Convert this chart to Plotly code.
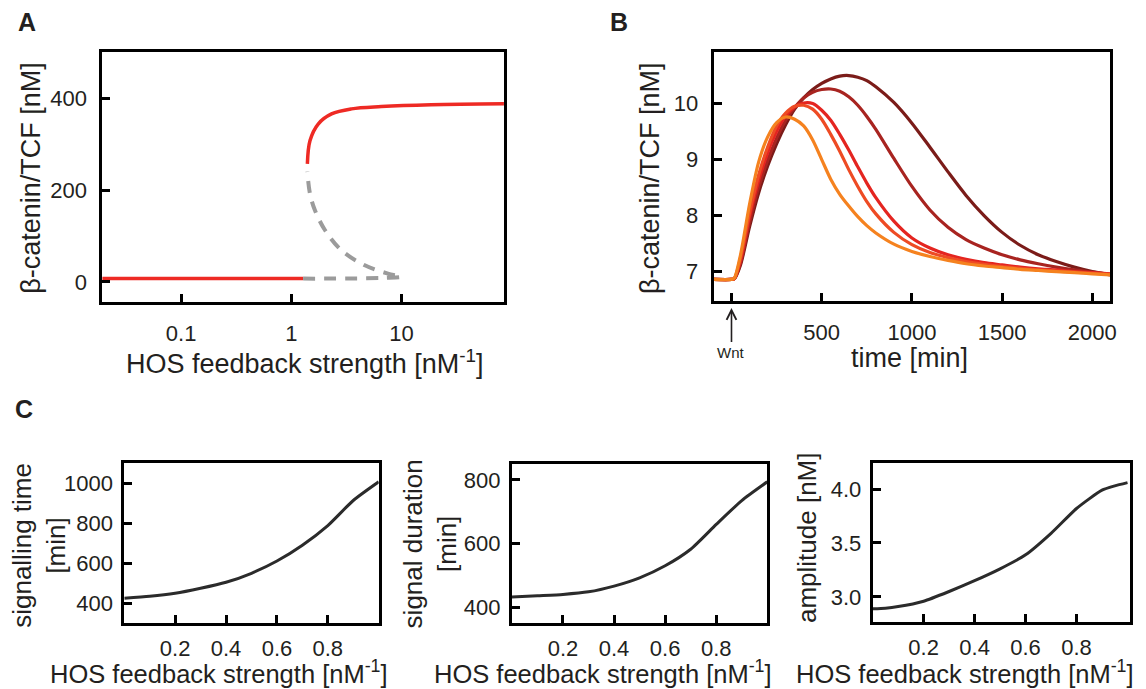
import plotly.graph_objects as go

# The page body adds an 8px margin, so the figure is drawn 8px smaller and offset
OFF = 8
W, H = 1146 - OFF, 689 - OFF

# ---------------- Panel A data (bifurcation diagram) ----------------
a_low_stable_x = [0.0189, 1.28]
a_low_stable_y = [7, 7]
a_unstable_x = [1.28, 2.0, 4.0, 7.0, 9.97, 7.55, 4.65, 2.85, 2.02, 1.64, 1.476, 1.40]
a_unstable_y = [7, 7, 7.5, 8.5, 11, 18, 36, 69, 113, 156, 193, 240]
a_high_stable_x = [1.40, 1.48, 1.755, 2.32, 3.52, 6.57, 18.6, 85.5]
a_high_stable_y = [257, 308, 344, 366, 377, 382, 386, 388]
a_yticks = [0, 200, 400]
a_xticks = [0.1, 1, 10]
a_xticklabels = ["0.1", "1", "10"]

# ---------------- Panel B data (time courses) ----------------
b_time = [-100, 0, 15, 50, 100, 150, 200, 250, 300, 350, 400, 450, 500, 550, 600,
          650, 700, 750, 800, 900, 1000, 1100, 1200, 1300, 1400, 1500, 1600, 1700,
          1800, 1900, 2000, 2100]
b_orange = [6.86, 6.86, 6.88, 7.30, 8.20, 8.95, 9.40, 9.66, 9.76, 9.72, 9.60, 9.35, 9.00, 8.65, 8.38,
            8.17, 7.98, 7.82, 7.69, 7.49, 7.36, 7.27, 7.20, 7.14, 7.10, 7.07, 7.04, 7.02,
            7.00, 6.98, 6.96, 6.94]
b_redorange = [6.86, 6.86, 6.87, 7.25, 8.05, 8.72, 9.22, 9.60, 9.83, 9.95, 9.97, 9.90, 9.72, 9.45, 9.15,
               8.82, 8.52, 8.25, 8.03, 7.70, 7.48, 7.34, 7.25, 7.18, 7.13, 7.09, 7.06, 7.03,
               7.01, 6.99, 6.97, 6.95]
b_red = [6.86, 6.86, 6.87, 7.20, 7.98, 8.62, 9.12, 9.50, 9.78, 9.94, 10.01, 10.00, 9.88, 9.70, 9.45,
         9.17, 8.87, 8.58, 8.32, 7.90, 7.60, 7.42, 7.30, 7.22, 7.16, 7.12, 7.08, 7.05,
         7.03, 7.00, 6.98, 6.96]
b_darkred = [6.86, 6.86, 6.87, 7.15, 7.88, 8.50, 8.98, 9.38, 9.70, 9.93, 10.10, 10.20, 10.25, 10.26, 10.22,
             10.12, 9.97, 9.77, 9.54, 9.02, 8.52, 8.10, 7.79, 7.57, 7.42, 7.30, 7.21, 7.14,
             7.08, 7.03, 6.99, 6.95]
b_maroon = [6.86, 6.86, 6.87, 7.12, 7.80, 8.40, 8.88, 9.28, 9.62, 9.90, 10.10, 10.25, 10.36, 10.44, 10.49,
            10.50, 10.47, 10.41, 10.30, 10.02, 9.65, 9.22, 8.78, 8.36, 8.00, 7.70, 7.47, 7.30,
            7.18, 7.08, 7.00, 6.94]
b_series = [("maroon", b_maroon, "#7B1C19"), ("darkred", b_darkred, "#A82420"),
            ("red", b_red, "#E42520"), ("redorange", b_redorange, "#EE4B24"),
            ("orange", b_orange, "#F5821F")]
b_yticks = [7, 8, 9, 10]
b_xticks = [500, 1000, 1500, 2000]
b_stimulus_time = [0]

# ---------------- Panel C data ----------------
c_x = [0, 0.1, 0.2, 0.3, 0.4, 0.5, 0.6, 0.7, 0.8, 0.9, 1.0]
c_signalling_time = [428, 437, 452, 477, 507, 552, 613, 692, 790, 915, 1008]
c_signal_duration = [432, 436, 440, 448, 466, 492, 530, 582, 660, 735, 794]
c3_x = [0, 0.05, 0.1, 0.2, 0.3, 0.4, 0.5, 0.6, 0.7, 0.8, 0.9, 0.95, 1.0]
c_amplitude = [2.89, 2.895, 2.91, 2.96, 3.05, 3.15, 3.26, 3.39, 3.59, 3.82, 3.99, 4.03, 4.06]
c_xticks = [0.2, 0.4, 0.6, 0.8]
c1_yticks = [400, 600, 800, 1000]
c2_yticks = [400, 600, 800]
c3_yticks = [3.0, 3.5, 4.0]
c3_yticklabels = ["3.0", "3.5", "4.0"]

FONT = "Arial, Liberation Sans, Helvetica, sans-serif"
TXT = "#231F20"


def px(x):
    return (x - OFF) / W


def py(y):
    return 1 - (y - OFF) / H


fig = go.Figure()

# Panel A traces
fig.add_trace(go.Scatter(x=a_low_stable_x, y=a_low_stable_y, mode="lines",
                         line=dict(color="#EE2A24", width=3.5), xaxis="x", yaxis="y"))
fig.add_trace(go.Scatter(x=a_unstable_x, y=a_unstable_y, mode="lines",
                         line=dict(color="#9B9B9B", width=4, dash="12px,9px", shape="spline"),
                         xaxis="x", yaxis="y"))
fig.add_trace(go.Scatter(x=a_high_stable_x, y=a_high_stable_y, mode="lines",
                         line=dict(color="#EE2A24", width=3.5, shape="spline"), xaxis="x", yaxis="y"))

# Panel B traces
for name, vals, col in b_series:
    fig.add_trace(go.Scatter(x=b_time, y=vals, mode="lines", name=name,
                             line=dict(color=col, width=3.2, shape="spline", smoothing=0.8),
                             xaxis="x2", yaxis="y2"))

# Panel C traces
for xs, ys, ax in [(c_x, c_signalling_time, "3"), (c_x, c_signal_duration, "4"), (c3_x, c_amplitude, "5")]:
    fig.add_trace(go.Scatter(x=xs, y=ys, mode="lines",
                             line=dict(color="#2B2B2B", width=3, shape="spline", smoothing=0.6),
                             xaxis="x" + ax, yaxis="y" + ax))

axis_common = dict(showline=True, linecolor="black", linewidth=3, mirror=True,
                   ticks="inside", ticklen=8, tickwidth=3, tickcolor="black",
                   showgrid=False, zeroline=False,
                   tickfont=dict(family=FONT, size=22, color=TXT))

layout = dict(
    width=W, height=H, margin=dict(l=0, r=0, t=0, b=0),
    paper_bgcolor="white", plot_bgcolor="white", showlegend=False,
    font=dict(family=FONT, color=TXT),
    xaxis=dict(axis_common, type="log", range=[-1.715, 1.931], domain=[px(103), px(507)],
               tickvals=a_xticks, ticktext=a_xticklabels, anchor="y", ticklabelstandoff=10),
    yaxis=dict(axis_common, range=[-44, 501], domain=[py(302), py(52)],
               tickvals=a_yticks, anchor="x", ticklabelstandoff=8),
    xaxis2=dict(axis_common, range=[-99, 2099], domain=[px(718), px(1117)],
                tickvals=b_xticks, anchor="y2", ticklabelstandoff=10,
                minor=dict(tickvals=b_stimulus_time, ticks="inside", ticklen=8,
                           tickwidth=3, tickcolor="black", showgrid=False)),
    yaxis2=dict(axis_common, range=[6.475, 10.92], domain=[py(301), py(52)],
                tickvals=b_yticks, anchor="x2", ticklabelstandoff=8),
    xaxis3=dict(axis_common, range=[0, 1.0], domain=[px(125), px(381)],
                tickvals=c_xticks, anchor="y3", ticklabelstandoff=4),
    yaxis3=dict(axis_common, range=[304, 1102], domain=[py(623), py(463)],
                tickvals=c1_yticks, anchor="x3", ticklabelstandoff=4),
    xaxis4=dict(axis_common, range=[0, 1.0], domain=[px(515), px(772)],
                tickvals=c_xticks, anchor="y4", ticklabelstandoff=4),
    yaxis4=dict(axis_common, range=[350, 850], domain=[py(623), py(464)],
                tickvals=c2_yticks, anchor="x4", ticklabelstandoff=4),
    xaxis5=dict(axis_common, range=[0, 1.01], domain=[px(878), px(1137)],
                tickvals=c_xticks, anchor="y5", ticklabelstandoff=4),
    yaxis5=dict(axis_common, range=[2.767, 4.242], domain=[py(622), py(463)],
                tickvals=c3_yticks, ticktext=c3_yticklabels, anchor="x5", ticklabelstandoff=4),
)
fig.update_layout(**layout)


def label(text, x, y, size=27, angle=0, bold=False):
    fig.add_annotation(text=("<b>%s</b>" % text) if bold else text,
                       x=px(x), y=py(y), xref="paper", yref="paper",
                       xanchor="center", yanchor="middle", showarrow=False,
                       textangle=angle, font=dict(family=FONT, size=size, color=TXT))


hos = "HOS feedback strength [nM<sup>-1</sup>]"
# Panel letters
label("A", 27, 22, size=25, bold=True)
label("B", 623, 22, size=25, bold=True)
label("C", 24, 409, size=25, bold=True)
# Panel A titles
label(hos, 306, 362, size=27)
label("β-catenin/TCF [nM]", 31, 178, size=27, angle=-90)
# Panel B titles
label("time [min]", 915, 358, size=27)
label("β-catenin/TCF [nM]", 654, 178, size=27, angle=-90)
# Panel C titles
label(hos, 220, 672, size=25.5)
label(hos, 607, 672, size=25.5)
label(hos, 971, 672, size=25.5)
label("signalling time<br>[min]", 39, 545, size=26, angle=-90)
label("signal duration<br>[min]", 433, 544, size=26, angle=-90)
label("amplitude [nM]", 812, 538, size=26, angle=-90)

# Wnt stimulus arrow
fig.add_annotation(x=0, y=py(308), xref="x2", yref="paper", text="Wnt",
                   showarrow=True, arrowhead=5, arrowsize=1.2, arrowwidth=1.6,
                   arrowcolor=TXT, ax=0, ay=44,
                   font=dict(family=FONT, size=15, color=TXT))

fig.write_html("out.html")
